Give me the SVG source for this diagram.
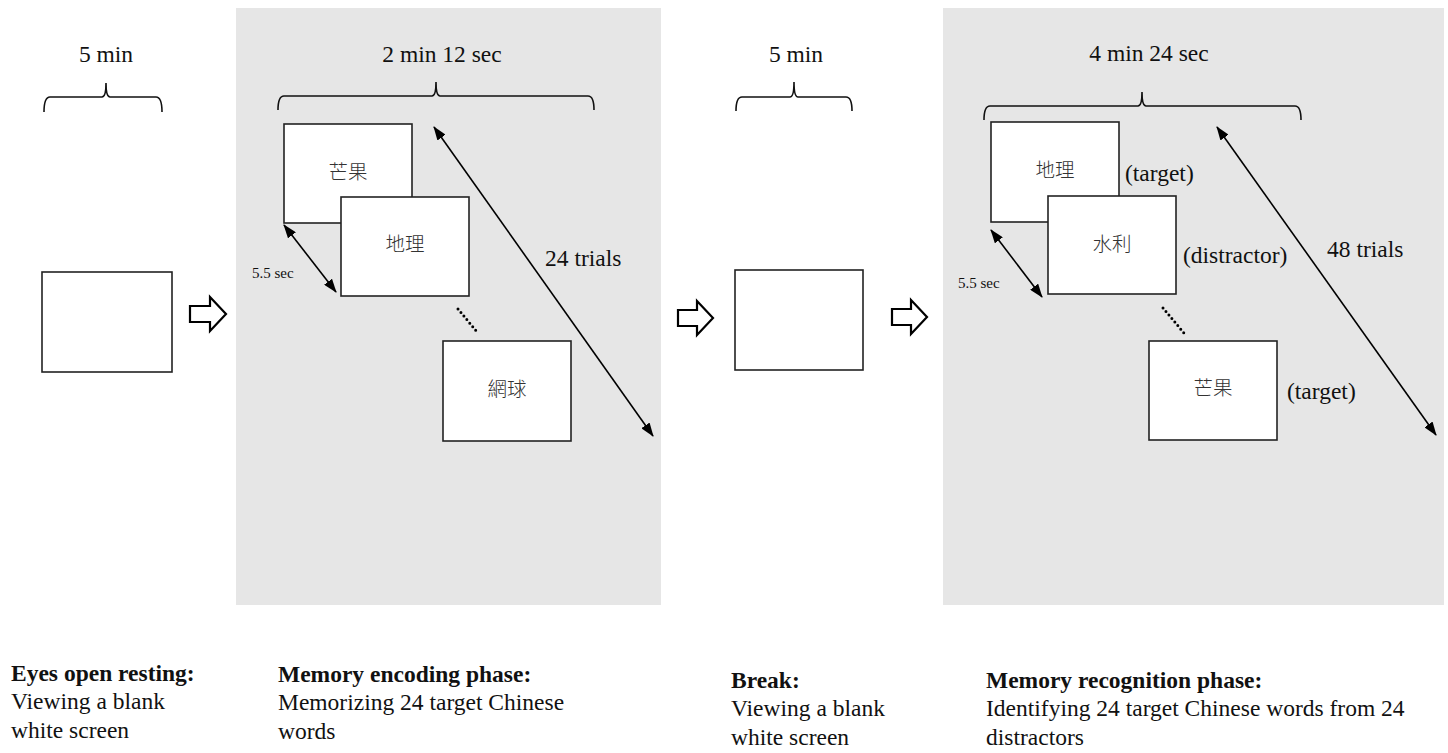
<svg xmlns="http://www.w3.org/2000/svg" width="1448" height="753" viewBox="0 0 1448 753">
<defs>
<style>
.t{font-family:"Liberation Serif","Times New Roman",serif;font-size:23.5px;fill:#111}
.b{font-family:"Liberation Serif","Times New Roman",serif;font-size:23.5px;font-weight:bold;fill:#111}
.s{font-family:"Liberation Serif","Times New Roman",serif;font-size:15px;fill:#111}
.c{font-family:"Noto Sans CJK TC","Noto Sans CJK SC",sans-serif;font-size:19.5px;font-weight:300;fill:#333;text-anchor:middle}
.panel{fill:#e6e6e6}
.box{fill:#fff;stroke:#222;stroke-width:1.6}
.brace{fill:none;stroke:#111;stroke-width:1.6}
.blk{fill:#fff;stroke:#000;stroke-width:2.2;stroke-linejoin:miter}
.ln{stroke:#000;stroke-width:1.6;fill:none}
.dots{stroke:#000;stroke-width:3;stroke-linecap:round;stroke-dasharray:0 4.6;fill:none}
</style>
<marker id="ah" viewBox="0 0 14 10" refX="13" refY="5" markerWidth="14" markerHeight="10" markerUnits="userSpaceOnUse" orient="auto-start-reverse">
<path d="M0,0 L14,5 L0,10 Z" fill="#000"/>
</marker>
</defs>
<rect width="1448" height="753" fill="#fff"/>

<rect class="panel" x="236" y="8" width="425" height="597"/>
<rect class="panel" x="943" y="8" width="501" height="597"/>

<g id="rest">
<text class="t" x="106" y="62" text-anchor="middle">5 min</text>
<path class="brace" d="M44,112 Q44,97 50,97 L102,97 Q106,97 106,83 Q106,97 110,97 L156,97 Q162,97 162,112"/>
<rect class="box" x="42" y="272" width="130" height="100"/>
</g>

<g id="encoding">
<text class="t" x="442" y="62" text-anchor="middle">2 min 12 sec</text>
<path class="brace" d="M278,110 Q278,96 284,96 L432,96 Q436,96 436,82 Q436,96 440,96 L588,96 Q594,96 594,110"/>
<rect class="box" x="284" y="124" width="128" height="99"/>
<text class="c" x="348" y="179">芒果</text>
<rect class="box" x="341" y="197" width="128" height="99"/>
<text class="c" x="405" y="251">地理</text>
<rect class="box" x="443" y="341" width="128" height="100"/>
<text class="c" x="507" y="396">網球</text>
<text class="s" x="252" y="278">5.5 sec</text>
<text class="t" x="545" y="266">24 trials</text>
</g>

<g id="break">
<text class="t" x="796" y="62" text-anchor="middle">5 min</text>
<path class="brace" d="M736,111 Q736,97 742,97 L790,97 Q794,97 794,82 Q794,97 798,97 L846,97 Q852,97 852,111"/>
<rect class="box" x="735" y="270" width="128" height="100"/>
</g>

<g id="recognition">
<text class="t" x="1149" y="61" text-anchor="middle">4 min 24 sec</text>
<path class="brace" d="M984,120 Q984,106 990,106 L1138,106 Q1142,106 1142,92 Q1142,106 1146,106 L1295,106 Q1301,106 1301,120"/>
<rect class="box" x="991" y="122" width="128" height="100"/>
<text class="c" x="1055" y="177">地理</text>
<text class="t" x="1125" y="181">(target)</text>
<rect class="box" x="1048" y="196" width="128" height="98"/>
<text class="c" x="1112" y="251">水利</text>
<text class="t" x="1183" y="263">(distractor)</text>
<rect class="box" x="1149" y="341" width="128" height="99"/>
<text class="c" x="1213" y="395">芒果</text>
<text class="t" x="1287" y="399">(target)</text>
<text class="s" x="958" y="288">5.5 sec</text>
<text class="t" x="1327" y="257">48 trials</text>
</g>

<g id="connectors">
<path class="blk" d="M190,306 L210,306 L210,297 L226,314 L210,331 L210,322 L190,322 Z"/>
<path class="blk" d="M678,310 L697,310 L697,301 L713,318 L697,335 L697,326 L678,326 Z"/>
<path class="blk" d="M892,309 L911,309 L911,300 L927,317 L911,334 L911,325 L892,325 Z"/>
<line class="ln" x1="434" y1="127" x2="653" y2="436" marker-start="url(#ah)" marker-end="url(#ah)"/>
<line class="ln" x1="284" y1="225" x2="336" y2="292" marker-start="url(#ah)" marker-end="url(#ah)"/>
<line class="dots" x1="458" y1="309" x2="478" y2="333"/>
<line class="ln" x1="1217" y1="127" x2="1436" y2="435" marker-start="url(#ah)" marker-end="url(#ah)"/>
<line class="ln" x1="991" y1="230" x2="1042" y2="297" marker-start="url(#ah)" marker-end="url(#ah)"/>
<line class="dots" x1="1163" y1="308" x2="1184" y2="333"/>
</g>

<g id="captions">
<text class="b" x="11" y="681">Eyes open resting:</text>
<text class="t" x="11" y="709">Viewing a blank</text>
<text class="t" x="11" y="738">white screen</text>
<text class="b" x="278" y="682">Memory encoding phase:</text>
<text class="t" x="278" y="710">Memorizing 24 target Chinese</text>
<text class="t" x="278" y="739">words</text>
<text class="b" x="731" y="688">Break:</text>
<text class="t" x="731" y="716">Viewing a blank</text>
<text class="t" x="731" y="745">white screen</text>
<text class="b" x="986" y="688">Memory recognition phase:</text>
<text class="t" x="986" y="716">Identifying 24 target Chinese words from 24</text>
<text class="t" x="986" y="745">distractors</text>
</g>
</svg>
